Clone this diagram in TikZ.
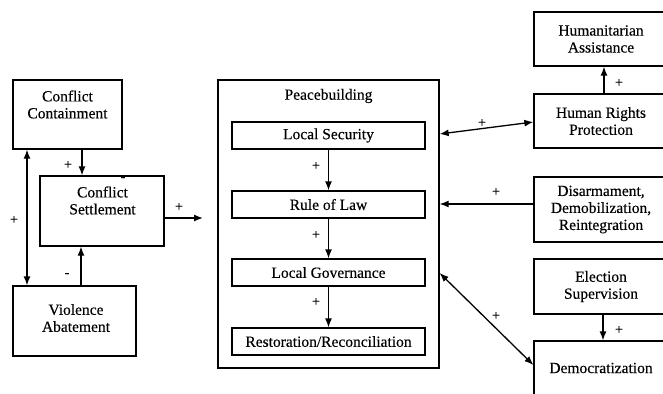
\documentclass[tikz,border=0pt]{standalone}
\usepackage{fontspec}
\setmainfont{Liberation Serif}[UprightFeatures={FakeBold=0.25}]
\usetikzlibrary{arrows.meta}
\begin{document}
\begin{tikzpicture}[x=1pt,y=-1pt,
  box/.style={draw, line width=1.3pt, inner sep=0pt, align=center,
    font=\fontsize{15.5}{17}\selectfont},
  txt/.style={inner sep=0pt, align=center, font=\fontsize{15.5}{17}\selectfont},
  sign/.style={inner sep=0pt, font=\fontsize{14}{14}\selectfont},
  arr/.style={line width=1.3pt, -{Latex[length=9pt,width=7pt]}},
  dbl/.style={line width=1.3pt, {Latex[length=9pt,width=7pt]}-{Latex[length=9pt,width=7pt]}}]
\useasboundingbox (0,0) rectangle (663,393);
\clip (0,0) rectangle (663,393);

% left-hand group
\node[box, minimum width=109pt, minimum height=69pt] (cc) at (67.5,114.5) {};
\node[txt] (cctext) at (67.5,104.5) {Conflict\\Containment};
\node[box, minimum width=124pt, minimum height=70pt] (cs) at (102,211) {};
\node[txt] (cstext) at (102.5,200.5) {Conflict\\Settlement};
\node[box, minimum width=123pt, minimum height=70pt] (va) at (74.5,321) {};
\node[txt] (vatext) at (76,318) {Violence\\Abatement};
\coordinate (csout) at (203,218);

% peacebuilding block
\node[box, minimum width=221pt, minimum height=288pt] (pb) at (328.5,224) {};
\node[txt] (pbtext) at (328.5,96) {Peacebuilding};
\node[box, minimum width=193pt, minimum height=27pt] (ls) at (328.5,135.5) {Local Security};
\node[box, minimum width=193pt, minimum height=27pt] (rl) at (328.5,204.5) {Rule of Law};
\node[box, minimum width=193pt, minimum height=27pt] (lg) at (328.5,272.5) {Local Governance};
\node[box, minimum width=193pt, minimum height=27pt] (rr) at (328.5,341.5) {Restoration/Reconciliation};

% right-hand column
\node[box, minimum width=134pt, minimum height=54pt] (ha) at (601,39) {Humanitarian\\Assistance};
\node[box, minimum width=134pt, minimum height=54pt] (hr) at (601,121) {Human Rights\\Protection};
\node[box, minimum width=134pt, minimum height=65pt] (ddr) at (601,209.5) {Disarmament,\\Demobilization,\\Reintegration};
\node[box, minimum width=134pt, minimum height=55pt] (es) at (601,286.5) {Election\\Supervision};
\node[box, minimum width=134pt, minimum height=54pt] (dem) at (601,368) {Democratization};

% connectors
\draw[arr] (cc.south -| 82,0) -- (cs.north -| 82,0);
\draw[dbl] (cc.south -| 27,0) -- (va.north -| 27,0);
\draw[arr] (va.north -| 81,0) -- (cs.south -| 81,0);
\draw[arr] (cs.east |- 0,218) -- (csout);
\draw[arr] (ls.south) -- (rl.north);
\draw[arr] (rl.south) -- (lg.north);
\draw[arr] (lg.south) -- (rr.north);
\draw[arr] (hr.north -| 604,0) -- (ha.south -| 604,0);
\draw[dbl] (pb.east |- 0,134) -- (hr.west |- 0,122);
\draw[arr] (ddr.west |- 0,204) -- (pb.east |- 0,204);
\draw[arr] (es.south -| 603,0) -- (dem.north -| 603,0);
\draw[dbl] (pb.east |- 0,273) -- (dem.west |- 0,365);

% signs
\node[sign] (s1) at (68,165) {+};
\node[sign] (s2) at (14,220) {+};
\node[sign] (s3) at (67,275) {-};
\node[sign] (s4) at (123,179) {-};
\node[sign] (s5) at (179,207) {+};
\node[sign] (s6) at (316,166) {+};
\node[sign] (s7) at (316,235) {+};
\node[sign] (s8) at (316,302) {+};
\node[sign] (s9) at (482,123) {+};
\node[sign] (s10) at (619,83) {+};
\node[sign] (s11) at (496,192) {+};
\node[sign] (s12) at (496,316) {+};
\node[sign] (s13) at (619,330) {+};
\end{tikzpicture}
\end{document}
